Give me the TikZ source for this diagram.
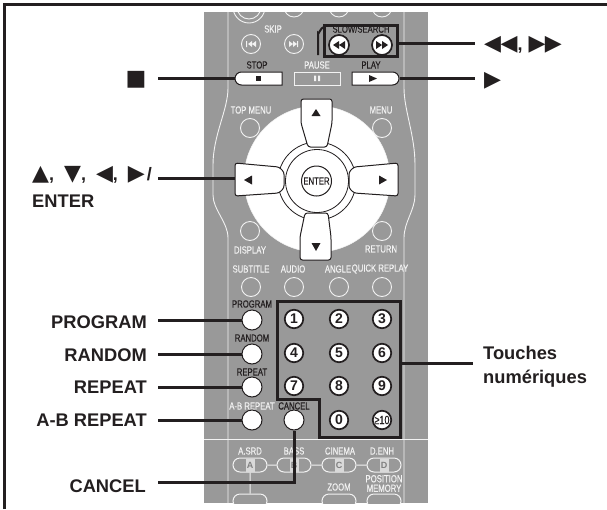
\documentclass[tikz,border=0pt]{standalone}
\usepackage{fontspec}
\usetikzlibrary{shapes.misc,shapes.geometric}
\setmainfont{Liberation Sans}
\newfontfamily\symf{DejaVu Sans}
\newfontfamily\narrowf[FakeStretch=0.75]{Liberation Sans}
\newfontfamily\narrowb[FakeStretch=0.75,FakeBold=0.35]{Liberation Sans}
\definecolor{panel}{HTML}{999999}
\definecolor{ink}{HTML}{231F20}
\definecolor{pale}{HTML}{F2F2F2}
\tikzset{
  callout/.style={font=\fontsize{18.3}{22}\selectfont\bfseries,text=ink,inner sep=0pt,anchor=base east},
  symb/.style={font=\fontsize{22}{24}\symf,text=ink,inner sep=0pt,anchor=base west},
  tiny/.style={font=\fontsize{10.3}{9.5}\narrowb,text=pale,inner sep=0pt,align=center},
  tinydark/.style={tiny,text=ink},
  leader/.style={draw=ink,line width=3pt},
  hilite/.style={draw=ink,line width=3pt,line join=miter},
  ghost/.style={circle,draw=pale,line width=.9pt,fill=panel,minimum size=19pt,inner sep=0pt},
  white btn/.style={circle,draw=ink,line width=1pt,fill=white,minimum size=20pt,inner sep=0pt},
  num btn/.style={circle,draw=ink,line width=1.7pt,fill=white,minimum size=18.5pt,inner sep=0pt,font=\fontsize{14}{14}\selectfont\bfseries,text=ink},
  pad/.style={draw=ink,line width=1pt,fill=white,rounded corners=2.5pt},
  pill/.style={rounded rectangle,draw=pale,line width=1pt,fill=panel,minimum width=34pt,minimum height=14pt,inner sep=0pt},
  letter/.style={fill=gray!30,text=gray,minimum width=9pt,minimum height=13pt,inner sep=0pt,font=\fontsize{9}{9}\selectfont\bfseries},
  tri/.style={fill=ink},
}
\begin{document}
\begin{tikzpicture}[x=1pt,y=-1pt]
\useasboundingbox (0,0) rectangle (607,509);
\fill[white] (0,0) rectangle (607,509);
% frame
\draw[ink,line width=2.6pt] (4.6,509) |- (607,4.4);
% panel
\fill[panel] (204,12) rectangle (428,503);
\begin{scope}
\clip (204,12) rectangle (428,503);
% body lines
\draw[pale,line width=.9pt] (228,12) -- (228,88) .. controls (228,110) and (213,135) .. (213,165) -- (213,195) .. controls (213,210) and (228,222) .. (228,238) -- (228,503);
\draw[pale,line width=.9pt] (404,12) -- (404,88) .. controls (404,110) and (415,135) .. (415,165) -- (415,195) .. controls (415,210) and (404,222) .. (404,238) -- (404,503);
\draw[pale,line width=.9pt] (204,439) -- (428,439);
% top partial buttons
\draw[pale,line width=.9pt] (249,7) circle (16) (249,7) circle (12);
\foreach \x in {294,339,382} \draw[pale,line width=.9pt] (\x,7) circle (10);
% lower pills
\node[pill] (lowA) at (250,501) {};
\node[pill] (lowC) at (339,501) {};
\node[pill] (lowD) at (384,501) {};
\end{scope}
% tiny labels
\node[tiny] (tSkip) at (273,29) {SKIP};
\node[tinydark] (tSlow) at (361,29) {SLOW/SEARCH};
\node[tinydark] (tStop) at (257,65) {STOP};
\node[tiny] (tPause) at (317,65) {PAUSE};
\node[tinydark] (tPlay) at (371,65) {PLAY};
\node[tiny] (tTop) at (251,110) {TOP MENU};
\node[tiny] (tMenu) at (381,110) {MENU};
\node[tiny] (tDisp) at (250,250) {DISPLAY};
\node[tiny] (tRet) at (381,249) {RETURN};
\node[tiny] (tSub) at (251,269) {SUBTITLE};
\node[tiny] (tAud) at (293,269) {AUDIO};
\node[tiny] (tAng) at (338,269) {ANGLE};
\node[tiny] (tQuick) at (380,269) {QUICK REPLAY};
\node[tinydark] (tProg) at (252,304) {PROGRAM};
\node[tinydark] (tRand) at (252,338) {RANDOM};
\node[tinydark] (tRep) at (252,372) {REPEAT};
\node[tiny] (tAB) at (252,406) {A-B REPEAT};
\node[tinydark] (tCancel) at (294,406) {CANCEL};
\node[tiny] (tSrd) at (250,451) {A.SRD};
\node[tiny] (tBass) at (294,451) {BASS};
\node[tiny] (tCin) at (340,451) {CINEMA};
\node[tiny] (tEnh) at (382,451) {D.ENH};
\node[tiny] (tZoom) at (339,487) {ZOOM};
\node[tiny] (tPos) at (384,483.5) {POSITION\\MEMORY};
% skip buttons
\node[ghost] (skipL) at (251,44) {};
\node[ghost] (skipR) at (294,44) {};
\fill[pale] (246,41) rectangle (247.2,47) (252,41) -- (252,47) -- (248,44) -- cycle (256,41) -- (256,47) -- (252,44) -- cycle;
\fill[pale] (289,41) -- (293,44) -- (289,47) -- cycle (293,41) -- (297,44) -- (293,47) -- cycle (297,41) rectangle (298.2,47);
% search buttons
\node[white btn,line width=1.7pt] (rew) at (339,45) {};
\node[white btn,line width=1.7pt] (ffw) at (382,45) {};
\fill[tri] (333,45) -- (339,41) -- (339,49) -- cycle (339,45) -- (345,41) -- (345,49) -- cycle;
\fill[tri] (376,41) -- (382,45) -- (376,49) -- cycle (382,41) -- (388,45) -- (382,49) -- cycle;
% transport
\node[rounded rectangle,rounded rectangle right arc=none,draw=ink,line width=1pt,fill=white,minimum width=47pt,minimum height=13pt,inner sep=0pt] (stop) at (258.5,78.5) {};
\node[rectangle,draw=pale,line width=.9pt,fill=panel,minimum width=46pt,minimum height=13pt,inner sep=0pt] (pause) at (317,78.5) {};
\node[rounded rectangle,rounded rectangle left arc=none,draw=ink,line width=1pt,fill=white,minimum width=47pt,minimum height=13pt,inner sep=0pt] (play) at (375.5,78.5) {};
\fill[tri] (255.5,75.5) rectangle (260.5,81);
\fill[pale] (314,75.5) rectangle (316,81) (318,75.5) rectangle (320,81);
\fill[tri] (369,75) -- (377,78.5) -- (369,82) -- cycle;
% ghost circles
\node[ghost] (topm) at (250,128) {};
\node[ghost] (menu) at (382,128) {};
\node[ghost] (disp) at (250,231) {};
\node[ghost] (ret) at (382,231) {};
\node[ghost] (sub) at (251,287) {};
\node[ghost] (aud) at (294,287) {};
\node[ghost] (ang) at (339,287) {};
\node[ghost] (quick) at (382,287) {};
% D-pad
\node[circle,draw=pale,line width=.5pt,fill=white,minimum size=146pt,inner sep=0pt] (disc) at (317,179) {};
\node[circle,draw=ink,line width=.8pt,fill=white,minimum size=78pt,inner sep=0pt] (ringB) at (317,181) {};
\node[circle,draw=ink,line width=.8pt,fill=white,minimum size=63pt,inner sep=0pt] (ringA) at (317,181) {};
\node[circle,draw=ink,line width=1pt,fill=white,minimum size=30pt,inner sep=0pt,font=\fontsize{10.3}{10}\narrowb,text=ink] (enter) at (316.5,181) {ENTER};
\draw[pad] (301,99) -- (332,99) -- (332,123) -- (327,147) -- (308,147) -- (301,123) -- cycle;
\draw[pad] (305,213) -- (328,213) -- (331,237) -- (331,260) -- (300,260) -- (300,237) -- cycle;
\draw[pad] (235,163) -- (279,167) -- (284,172) -- (284,188) -- (279,193) -- (235,196) -- cycle;
\draw[pad] (398,163) -- (354,167) -- (349,172) -- (349,188) -- (354,193) -- (398,196) -- cycle;
\coordinate (padL) at (235,178);
\fill[tri] (316,109) -- (320.5,116) -- (311.5,116) -- cycle;
\fill[tri] (311.5,243) -- (320.5,243) -- (316,251) -- cycle;
\fill[tri] (244,180) -- (252,175.5) -- (252,184.5) -- cycle;
\fill[tri] (387,180) -- (379,175.5) -- (379,184.5) -- cycle;
% white buttons
\node[white btn] (prog) at (252,320) {};
\node[white btn] (rand) at (252,354) {};
\node[white btn] (rept) at (252,387) {};
\node[white btn] (abr) at (252,420) {};
\node[white btn] (canc) at (294,420) {};
% number buttons
\node[num btn] (n1) at (294,319) {1};
\node[num btn] (n2) at (339,319) {2};
\node[num btn] (n3) at (382,319) {3};
\node[num btn] (n4) at (294,353) {4};
\node[num btn] (n5) at (339,353) {5};
\node[num btn] (n6) at (382,353) {6};
\node[num btn] (n7) at (294,386) {7};
\node[num btn] (n8) at (339,386) {8};
\node[num btn] (n9) at (382,386) {9};
\node[num btn] (n0) at (339,420) {0};
\node[num btn,font=\fontsize{12}{12}\narrowb] (n10) at (382,420) {≥10};
% pills
\node[pill] (pA) at (250,465) {};
\node[pill] (pB) at (294,465) {};
\node[pill] (pC) at (339,465) {};
\node[pill] (pD) at (384,465) {};
\draw[pale,line width=1pt] (pA) -- (pB) (pB) -- (pC) (pC) -- (pD) (pA) -- (lowA);
\node[letter] (lA) at (250,465) {A};
\node[letter] (lB) at (294,465) {B};
\node[letter] (lC) at (339,465) {C};
\node[letter] (lD) at (384,465) {D};
% highlight boxes
\draw[hilite] (324,25.5) rectangle (397,56.5);
\draw[ink,line width=2pt] (318,55) -- (318,33) to[out=-90,in=180] (324,27);
\draw[hilite] (277,301) -- (400,301) -- (400,437) -- (319,437) -- (319,399) -- (277,399) -- cycle;
% free ends
\coordinate (fStop) at (158,78);
\coordinate (fPad) at (158,178);
\coordinate (fProg) at (158,320);
\coordinate (fRand) at (158,354);
\coordinate (fRept) at (158,387);
\coordinate (fAB) at (158,420);
\coordinate (fCanc) at (158,482);
\coordinate (fSearch) at (475,43);
\coordinate (fPlay) at (475,78.5);
\coordinate (fNum) at (473,363);
\coordinate (boxS) at (397,43);
\coordinate (boxN) at (400,363);
% leaders
\draw[leader] (fStop) -- (stop.west |- fStop);
\draw[leader] (fPad) -- (padL);
\draw[leader] (fProg) -- (prog.west);
\draw[leader] (fRand) -- (rand.west);
\draw[leader] (fRept) -- (rept.west);
\draw[leader] (fAB) -- (abr.west);
\draw[leader] (fCanc) -| (canc.south);
\draw[leader] (boxS) -- (fSearch);
\draw[leader] (play.east) -- (fPlay);
\draw[leader] (boxN) -- (fNum);
% callouts
\node[symb] (cStop) at (125.5,85) {■};
\node[symb] (cSearch) at (484,50) {◀\kern-.5pt◀{\fontsize{18}{20}\selectfont\bfseries\rmfamily,}\kern6pt▶\kern-.5pt▶};
\node[symb] (cPlay) at (484,86) {▶};
\node[symb] (cPad) at (32,180) {▲{\fontsize{18}{20}\selectfont\bfseries\rmfamily,}\kern10pt▼{\fontsize{18}{20}\selectfont\bfseries\rmfamily,}\kern10pt◀{\fontsize{18}{20}\selectfont\bfseries\rmfamily,}\kern10pt▶\kern2pt{\fontsize{18}{20}\selectfont\bfseries\rmfamily/}};
\node[callout,anchor=base west] (cEnter) at (32,207) {ENTER};
\node[callout] (cProg) at (147,328) {PROGRAM};
\node[callout] (cRand) at (147,361) {RANDOM};
\node[callout] (cRept) at (147,393) {REPEAT};
\node[callout] (cAB) at (147,426) {A-B REPEAT};
\node[callout] (cCanc) at (146,492) {CANCEL};
\node[callout,anchor=base west] (cT) at (483,359) {Touches};
\node[callout,anchor=base west] (cN) at (483,383) {numériques};
\end{tikzpicture}
\end{document}
